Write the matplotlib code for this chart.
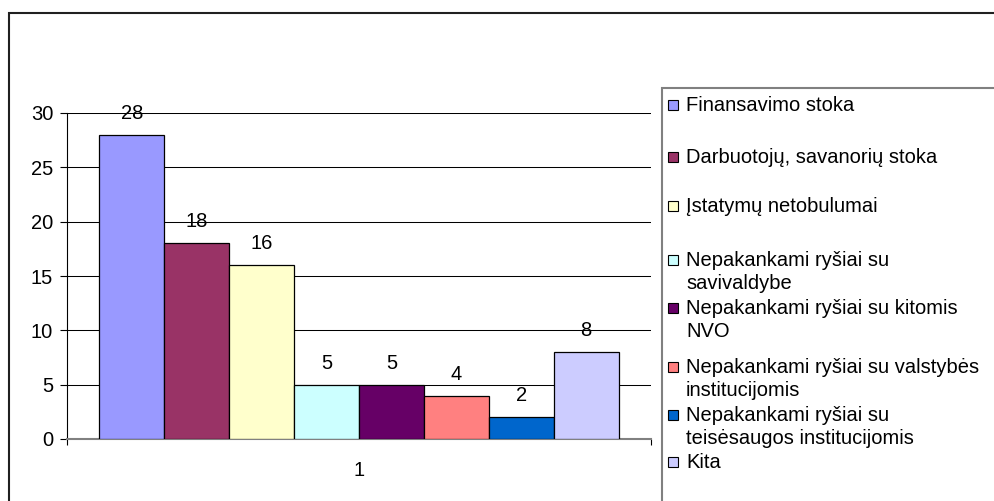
import matplotlib.pyplot as plt
from matplotlib.patches import Rectangle

# Data
categories = ['Finansavimo stoka',
              'Darbuotojų, savanorių stoka',
              'Įstatymų netobulumai',
              'Nepakankami ryšiai su\nsavivaldybe',
              'Nepakankami ryšiai su kitomis\nNVO',
              'Nepakankami ryšiai su valstybės\ninstitucijomis',
              'Nepakankami ryšiai su\nteisėsaugos institucijomis',
              'Kita']
values = [28, 18, 16, 5, 5, 4, 2, 8]
colors = ['#9999FF', '#993366', '#FFFFCC', '#CCFFFF',
          '#660066', '#FF8080', '#0066CC', '#CCCCFF']
x_labels = ['1']
y_ticks = [0, 5, 10, 15, 20, 25, 30]

plt.rcParams['font.family'] = ['Liberation Sans', 'DejaVu Sans']
fs = 14.5
W, H = 995, 501

fig = plt.figure(figsize=(W / 100, H / 100), dpi=100)
ax = fig.add_axes([67 / W, 1 - 439 / H, (651 - 67) / W, (439 - 113) / H])

# bars grouped around a single category
n = len(values)
group_w = 0.889
bw = group_w / n
for i, (v, c) in enumerate(zip(values, colors)):
    xc = -group_w / 2 + bw * (i + 0.5)
    ax.bar(xc, v, width=bw, color=c, edgecolor='black', linewidth=0.9, zorder=3)
    ax.annotate(str(v), (xc, v), xytext=(0, 15.5), textcoords='offset points',
                ha='center', va='center', fontsize=fs, zorder=4)

ax.set_xlim(-0.5, 0.5)
ax.set_ylim(0, 30)
ax.set_yticks(y_ticks)
ax.tick_params(axis='y', direction='out', length=5, width=0.8, pad=5,
               labelsize=fs)
ax.yaxis.grid(True, color='black', linewidth=0.75, zorder=0)
ax.set_axisbelow(True)

ax.set_xticks([0])
ax.set_xticklabels(x_labels)
ax.tick_params(axis='x', which='major', length=0, pad=15.5, labelsize=fs)
ax.set_xticks([-0.5, 0.5], minor=True)
ax.tick_params(axis='x', which='minor', direction='out', length=4.5,
               width=0.8, color='black')

for s in ['top', 'right']:
    ax.spines[s].set_visible(False)
ax.spines['left'].set_linewidth(0.8)
ax.spines['bottom'].set_color('#808080')
ax.spines['bottom'].set_linewidth(1.5)

# outer chart border
fig.patches.append(Rectangle((9 / W, -0.05), (W + 5 - 9) / W, 1.05 - 13 / H,
                             transform=fig.transFigure, fill=False,
                             edgecolor='#202020', linewidth=1.5))

# legend box
fig.patches.append(Rectangle((662 / W, -0.05), (W + 5 - 662) / W, 1.05 - 88 / H,
                             transform=fig.transFigure, fill=False,
                             edgecolor='#808080', linewidth=1.5))

# legend entries (square centre y in px, lines placed one below the other)
entry_y = [105, 157, 206, 260, 308, 367, 415, 462]
line_pitch = 23
for lab, c, yp in zip(categories, colors, entry_y):
    fig.patches.append(Rectangle((668 / W, 1 - (yp + 5) / H), 10 / W, 10 / H,
                                 transform=fig.transFigure, facecolor=c,
                                 edgecolor='black', linewidth=0.8))
    for k, line in enumerate(lab.split('\n')):
        fig.text(686 / W, 1 - (yp + 6 + k * line_pitch) / H, line,
                 fontsize=fs, ha='left', va='baseline')

fig.savefig('out.png', dpi=100)
